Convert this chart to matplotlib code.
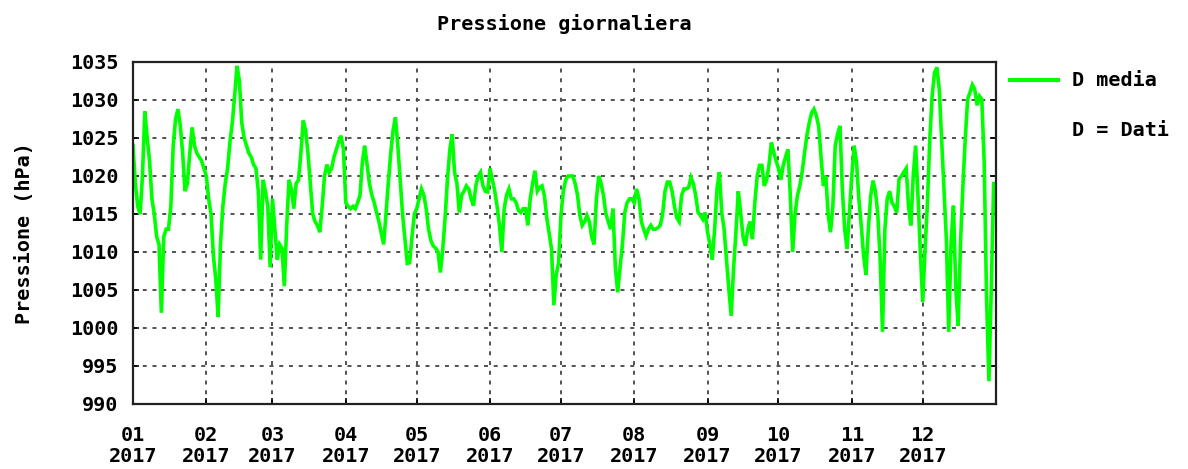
import matplotlib
matplotlib.use("Agg")
import matplotlib.pyplot as plt
import matplotlib.dates as mdates
from matplotlib.lines import Line2D
import pandas as pd

title = "Pressione giornaliera"
ylabel = "Pressione (hPa)"
legend_line = "D media"
legend_note = "D = Dati"
year = 2017

# daily mean pressure (hPa), one value per day of 2017
jan = [1024, 1019, 1016, 1015, 1020, 1028.5, 1025, 1022, 1017, 1015, 1012, 1011, 1002, 1012, 1013, 1013,
       1016, 1024, 1027.5, 1028.8, 1026.6, 1023, 1018, 1019, 1023, 1026.4, 1024, 1023, 1022.5, 1022, 1021]
feb = [1020, 1017, 1015, 1009.5, 1006.5, 1001.5, 1011, 1016, 1019, 1021, 1024.5, 1027, 1030.6, 1034.5,
       1032.5, 1027, 1025, 1024, 1023, 1022.5, 1021.5, 1021, 1018, 1009, 1019.5, 1018, 1016, 1008]
mar = [1017, 1013, 1009, 1011, 1010.5, 1005.5, 1013.5, 1019.5, 1018.3, 1015.7, 1019, 1019.5, 1023, 1027.3,
       1026, 1023, 1019, 1015, 1014, 1013.5, 1012.6, 1016, 1020, 1021.5, 1020.5, 1021, 1022.5, 1023.5,
       1024.5, 1025.3, 1023.5]
apr = [1016.5, 1016, 1015.7, 1016, 1015.7, 1016.5, 1017.4, 1021.8, 1024, 1021.5, 1019, 1017.5, 1016.5,
       1015.2, 1014, 1012.5, 1011, 1015, 1019.2, 1023, 1026, 1027.7, 1024, 1019.5, 1015, 1011.7, 1008.5,
       1008.6, 1012, 1015]
may = [1015.7, 1017, 1018.3, 1017.5, 1015.7, 1013, 1011.5, 1010.8, 1010.5, 1010, 1007.3, 1010.4, 1014.5,
       1019.6, 1023.5, 1025.5, 1020.5, 1019, 1015.2, 1017.5, 1018, 1018.7, 1018.3, 1017, 1016.1, 1018.7,
       1020, 1020.5, 1018.7, 1018, 1017.9]
jun = [1021, 1019.5, 1018, 1016, 1013.5, 1010, 1015.7, 1017.5, 1018.3, 1017, 1017, 1016.5, 1015.5, 1015.2,
       1015.7, 1015.7, 1013.5, 1017, 1019, 1020.7, 1018, 1018.5, 1018.7, 1017.4, 1014.5, 1012.5, 1010.4,
       1003, 1007, 1008.6]
jul = [1014.8, 1018, 1019.5, 1020, 1020, 1020, 1019, 1017.5, 1014.8, 1013.5, 1014, 1014.8, 1014, 1012,
       1011, 1017, 1020, 1019, 1017.4, 1015, 1014, 1013, 1015.7, 1008, 1004.7, 1008, 1011, 1015.2, 1016.5,
       1017, 1017]
aug = [1016.5, 1018.3, 1017, 1014, 1013, 1012.1, 1013, 1013.5, 1013, 1013, 1013.2, 1013.5, 1015, 1018,
       1019.2, 1019.2, 1018, 1016, 1014.5, 1014, 1017.4, 1018.3, 1018.3, 1018.5, 1019.8, 1019, 1017.4,
       1015.2, 1014.8, 1014.3, 1015.2]
sep = [1012.6, 1011, 1009, 1013, 1018.3, 1020.5, 1015.2, 1013, 1009, 1005.1, 1001.6, 1007.8, 1012.6,
       1018, 1015.2, 1012, 1010.8, 1013, 1014, 1011.7, 1016.5, 1020, 1021.4, 1021.4, 1018.7, 1019.5,
       1021.5, 1024.4, 1023.1, 1022]
oct_ = [1021, 1019.5, 1021.4, 1022.5, 1023.5, 1017.4, 1010, 1015, 1017.4, 1018.7, 1020.5, 1023, 1025.3,
        1027, 1028.3, 1028.8, 1028, 1026.5, 1022.5, 1018.7, 1020, 1015, 1012.6, 1016, 1024, 1025.5,
        1026.6, 1018.3, 1013, 1010.4, 1015.2]
nov = [1020, 1024, 1021.8, 1017, 1013.5, 1009.5, 1007, 1013, 1017.4, 1019.4, 1018, 1015, 1009, 999.5,
       1013, 1017, 1018, 1016.5, 1016, 1015.2, 1019.6, 1020, 1020.5, 1021, 1016, 1013.5, 1020, 1024,
       1017.4, 1010]
dec = [1003.4, 1010.4, 1016.5, 1024.9, 1030.6, 1033.6, 1034.3, 1031.4, 1024.9, 1018.3, 1011.7, 999.5,
       1011.3, 1016.1, 1005.1, 1000.3, 1011.3, 1018.7, 1024.9, 1030.1, 1031, 1032, 1031.4, 1029.3, 1030.5,
       1030.1, 1021.8, 1004, 993, 1005.1, 1019]

values = jan + feb + mar + apr + may + jun + jul + aug + sep + oct_ + nov + dec
dates = pd.date_range(f"{year}-01-01", periods=len(values), freq="D")

y_min, y_max, y_step = 990, 1035, 5

FONT = "DejaVu Sans Mono"
fs = 14.5

fig = plt.figure(figsize=(11.88, 4.69), dpi=100)
ax = fig.add_axes([133/1188, 1-404/469, (996-133)/1188, (404-62)/469])

ax.plot(dates, values, color="#00ff00", linewidth=2.6, solid_joinstyle="miter")

ax.set_xlim(pd.Timestamp(f"{year}-01-01"), pd.Timestamp(f"{year}-12-31 23:59"))
ax.set_ylim(y_min, y_max)
ax.set_yticks(range(y_min, y_max + 1, y_step))
ax.xaxis.set_major_locator(mdates.MonthLocator())
ax.xaxis.set_major_formatter(mdates.DateFormatter("%m\n%Y"))

ax.grid(True, color="#444444", linestyle=(0, (2.2, 3.2)), linewidth=1.3)
for s in ax.spines.values():
    s.set_linewidth(1.6)
    s.set_color("#222222")

ax.tick_params(axis="both", direction="in", length=4, width=1.2, right=True,
               labelsize=fs)
ax.tick_params(axis="y", pad=10.5)
ax.tick_params(axis="x", pad=16)
for lab in ax.get_xticklabels() + ax.get_yticklabels():
    lab.set_fontfamily(FONT)
    lab.set_fontweight("bold")
for lab in ax.get_xticklabels():
    lab.set_linespacing(1.12)

ax.set_title(title, fontfamily=FONT, fontweight="bold", fontsize=fs, pad=23)
ax.set_ylabel(ylabel, fontfamily=FONT, fontweight="bold", fontsize=fs, labelpad=26)

# legend drawn to the right of the plot
fig.add_artist(Line2D([1010/1188, 1058/1188], [1-80/469, 1-80/469], color="#00ff00", linewidth=3))
fig.text(1072/1188, 1-80/469, legend_line, fontfamily=FONT, fontweight="bold", fontsize=fs, va="center")
fig.text(1072/1188, 1-130/469, legend_note, fontfamily=FONT, fontweight="bold", fontsize=fs, va="center")

fig.savefig("out.png", dpi=100, facecolor="white")
